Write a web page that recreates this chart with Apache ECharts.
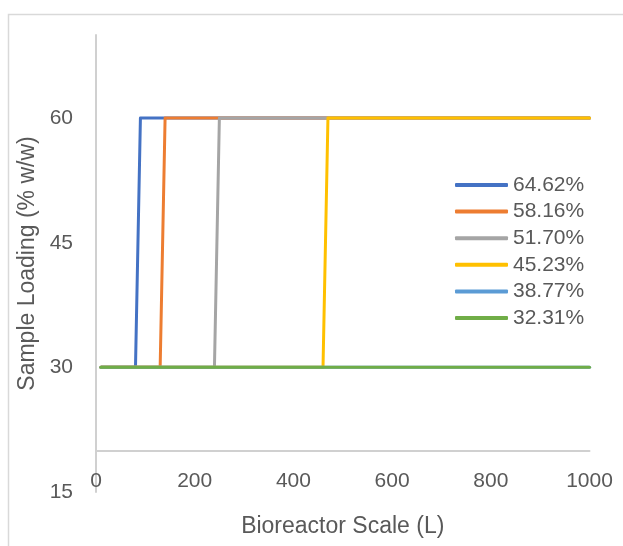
<!DOCTYPE html>
<html>
<head>
<meta charset="utf-8">
<script src="https://cdn.jsdelivr.net/npm/echarts@6/dist/echarts.min.js"></script>
<style>html,body{margin:0;padding:0;background:#fff;}#c{width:623px;height:546px;}</style>
</head>
<body>
<div id="c"></div>
<script>
// Series names (legend)
var seriesNames = ['64.62%', '58.16%', '51.70%', '45.23%', '38.77%', '32.31%'];
// Each series: [bioreactor scale (L), sample loading (% w/w)] breakpoints
var s6462 = [[10, 30], [80, 30], [90, 60], [1000, 60]];
var s5816 = [[10, 30], [130, 30], [140, 60], [1000, 60]];
var s5170 = [[10, 30], [240, 30], [250, 60], [1000, 60]];
var s4523 = [[10, 30], [460, 30], [470, 60], [1000, 60]];
var s3877 = [[10, 30], [1000, 30]];
var s3231 = [[10, 30], [1000, 30]];
var xTicks = [0, 200, 400, 600, 800, 1000];
var yTicks = [15, 30, 45, 60];

var seriesData = [s6462, s5816, s5170, s4523, s3877, s3231];
var colors = ['#4472C4', '#ED7D31', '#A5A5A5', '#FFC000', '#5B9BD5', '#70AD47'];
var font = "'Liberation Sans', Arial, sans-serif";
var textColor = '#595959';

var chart = echarts.init(document.getElementById('c'), null, {renderer: 'canvas'});
var option = {
  animation: false,
  backgroundColor: '#fff',
  color: colors,
  graphic: [{
    type: 'rect', silent: true, z: -1,
    shape: {x: 8.5, y: 14.5, width: 700, height: 600},
    style: {fill: 'none', stroke: '#d9d9d9', lineWidth: 1.5}
  }],
  legend: {
    orient: 'vertical',
    left: 450, top: 169.5,
    icon: 'roundRect',
    itemWidth: 53, itemHeight: 4, itemGap: 5.6,
    textStyle: {fontFamily: font, fontSize: 21, color: textColor, lineHeight: 21},
    data: seriesNames
  },
  grid: [
    {left: 96, right: 33.5, top: 35, bottom: 546 - 492, containLabel: false},
    {left: 96, right: 33.5, top: 450.7, height: 0, containLabel: false}
  ],
  xAxis: [
    {gridIndex: 0, type: 'value', min: 0, max: 1000, interval: 200,
     axisLine: {show: false}, axisTick: {show: false}, axisLabel: {show: false}, splitLine: {show: false}},
    {gridIndex: 1, type: 'value', min: xTicks[0], max: xTicks[xTicks.length - 1], interval: 200,
     name: 'Bioreactor Scale (L)', nameLocation: 'middle', nameGap: 64,
     nameTextStyle: {fontFamily: font, fontSize: 23, color: textColor},
     axisLine: {show: true, lineStyle: {color: '#d0d0d0', width: 2}},
     axisTick: {show: false},
     axisLabel: {margin: 20, fontFamily: font, fontSize: 21, color: textColor,
       formatter: function (v) { return String(v); }},
     splitLine: {show: false}}
  ],
  yAxis: [
    {gridIndex: 0, type: 'value', min: yTicks[0], max: 70, interval: 15,
     name: 'Sample Loading (% w/w)', nameLocation: 'middle', nameGap: 55,
     nameTextStyle: {fontFamily: font, fontSize: 23, color: textColor},
     axisLine: {show: true, lineStyle: {color: '#d0d0d0', width: 2}},
     axisTick: {show: false},
     axisLabel: {margin: 23, fontFamily: font, fontSize: 21, color: textColor,
       formatter: function (v) { return yTicks.indexOf(v) >= 0 ? String(v) : ''; }},
     splitLine: {show: false}},
    {gridIndex: 1, type: 'value', min: 0, max: 1, show: false}
  ],
  series: seriesNames.map(function (n, i) {
    return {
      name: n, type: 'line', xAxisIndex: 0, yAxisIndex: 0,
      data: seriesData[i], symbol: 'none', showSymbol: false,
      lineStyle: {width: 3, color: colors[i], cap: 'round', join: 'round'},
      itemStyle: {color: colors[i]},
      z: 2 + i
    };
  })
};
chart.setOption(option);
</script>
</body>
</html>
